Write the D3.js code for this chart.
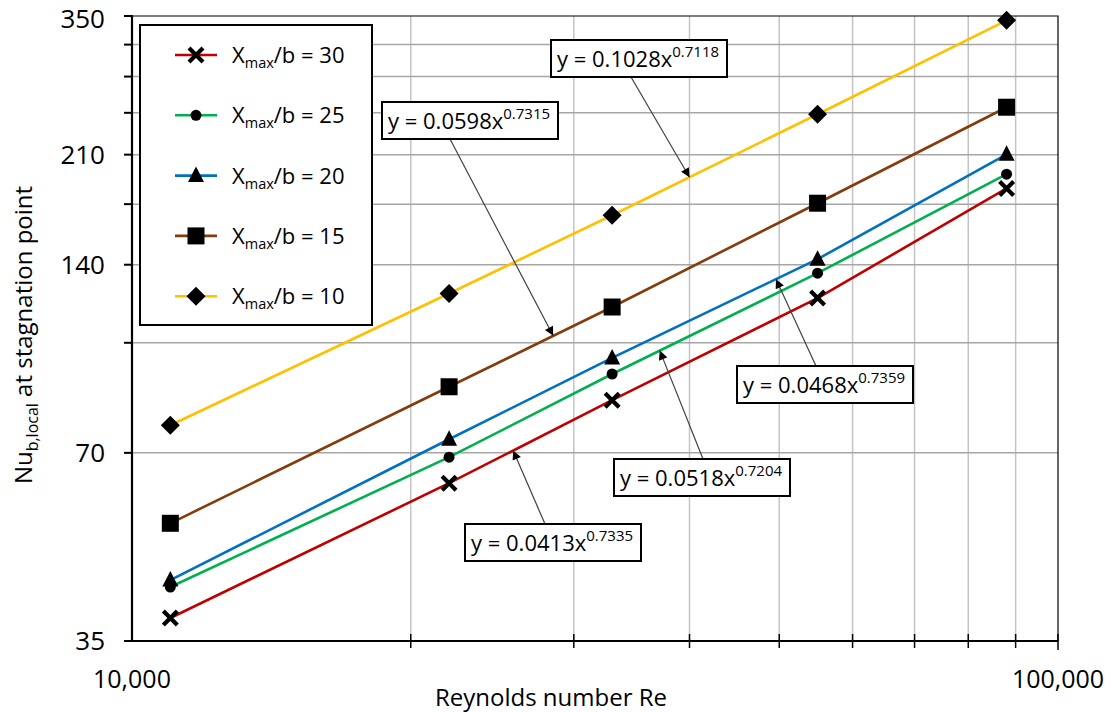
<!DOCTYPE html>
<html>
<head>
<meta charset="utf-8">
<script src="https://cdn.jsdelivr.net/npm/d3@7"></script>
<style>
  body { margin: 0; background: #fff; }
  svg { display: block; font-family: "Open Sans", sans-serif; }
</style>
</head>
<body>
<svg id="chart" width="1116" height="712"></svg>
<script>
// data (Re on x, Nu on y)
const reynolds = [11000, 22000, 33000, 55000, 88000];
const nuXb30 = [38.1, 62.6, 85.0, 123.8, 185.4];
const nuXb25 = [42.7, 68.9, 93.6, 135.7, 195.4];
const nuXb20 = [43.8, 73.6, 99.3, 142.9, 210.3];
const nuXb15 = [54.0, 89.3, 119.8, 175.6, 250.1];
const nuXb10 = [77.5, 125.9, 168.0, 243.7, 344.5];

const seriesNames = ['30', '25', '20', '15', '10'];
const seriesColors = ['#c00000', '#00b050', '#0070c0', '#843c0c', '#ffc000'];
const seriesShapes = ['cross', 'circle', 'triangle', 'square', 'diamond'];

const yTickLabels = [35, 70, 140, 210, 350];
const yGridValues = [70, 105, 140, 175, 210, 245, 280, 315, 350];
const xMinorValues = [20000, 30000, 40000, 50000, 60000, 70000, 80000, 90000];
const xTickLabels = [10000, 100000];

// trendline equations (coef, exponent) and where each arrow touches its line (Re)
const eqCoef = ['0.0413', '0.0518', '0.0468', '0.0598', '0.1028'];
const eqExp = ['0.7335', '0.7204', '0.7359', '0.7315', '0.7118'];
const eqSeries = [0, 1, 2, 3, 4];
const eqTipRe = [25800, 37150, 49600, 28500, 40000];

const allSeries = [nuXb30, nuXb25, nuXb20, nuXb15, nuXb10];

// layout
const margin = { top: 16, right: 58, bottom: 71, left: 132 };
const svg = d3.select('#chart');
const width = +svg.attr('width');
const height = +svg.attr('height');
const x0 = margin.left, x1 = width - margin.right;
const y0 = height - margin.bottom, y1 = margin.top;

const xScale = d3.scaleLog().domain([10000, 100000]).range([x0, x1]);
const yScale = d3.scaleLog().domain([35, 350]).range([y0, y1]);

// gridlines
svg.append('g').selectAll('line')
  .data(xMinorValues)
  .join('line')
  .attr('x1', d => xScale(d)).attr('x2', d => xScale(d))
  .attr('y1', y0).attr('y2', y1)
  .attr('stroke', '#c4c4c4').attr('stroke-width', 1.5);

svg.append('g').selectAll('line')
  .data(yGridValues.filter(d => d < 350))
  .join('line')
  .attr('x1', x0).attr('x2', x1)
  .attr('y1', d => yScale(d)).attr('y2', d => yScale(d))
  .attr('stroke', '#a6a6a6').attr('stroke-width', 1.5);

// plot border top/right
svg.append('path')
  .attr('d', `M${x0},${y1}H${x1}V${y0}`)
  .attr('fill', 'none').attr('stroke', '#000').attr('stroke-width', 1.2);

// series lines
const line = d3.line()
  .x((d, i) => xScale(reynolds[i]))
  .y(d => yScale(d));

svg.append('g').selectAll('path')
  .data(allSeries)
  .join('path')
  .attr('d', d => line(d))
  .attr('fill', 'none')
  .attr('stroke', (d, i) => seriesColors[i])
  .attr('stroke-width', 2.6);

// marker shapes
function drawMarker(g, shape) {
  if (shape === 'cross') {
    g.append('path').attr('d', 'M-7,-7L7,7M-7,7L7,-7')
      .attr('stroke', '#000').attr('stroke-width', 4.2).attr('fill', 'none');
  } else if (shape === 'circle') {
    g.append('circle').attr('r', 5.5).attr('fill', '#000');
  } else if (shape === 'triangle') {
    g.append('path').attr('d', 'M0,-9L8,6.5L-8,6.5Z').attr('fill', '#000');
  } else if (shape === 'square') {
    g.append('rect').attr('x', -8.5).attr('y', -8.5).attr('width', 17).attr('height', 17).attr('fill', '#000');
  } else if (shape === 'diamond') {
    g.append('path').attr('d', 'M0,-9.5L9.5,0L0,9.5L-9.5,0Z').attr('fill', '#000');
  }
}

allSeries.forEach((vals, si) => {
  svg.append('g').selectAll('g')
    .data(vals)
    .join('g')
    .attr('transform', (d, i) => `translate(${xScale(reynolds[i])},${yScale(d)})`)
    .each(function () { drawMarker(d3.select(this), seriesShapes[si]); });
});

// axes
const axisG = svg.append('g');
axisG.append('line')
  .attr('x1', x0).attr('x2', x0).attr('y1', y1).attr('y2', y0 + 1)
  .attr('stroke', '#000').attr('stroke-width', 2.2);
axisG.append('line')
  .attr('x1', x0 - 1).attr('x2', x1).attr('y1', y0).attr('y2', y0)
  .attr('stroke', '#000').attr('stroke-width', 2.2);

// y ticks (major and minor look the same)
axisG.selectAll('.ytick')
  .data([35].concat(yGridValues))
  .join('line')
  .attr('x1', x0 - 8).attr('x2', x0 + 1)
  .attr('y1', d => yScale(d)).attr('y2', d => yScale(d))
  .attr('stroke', '#000').attr('stroke-width', 2);

axisG.selectAll('.ylab')
  .data(yTickLabels)
  .join('text')
  .attr('x', x0 - 27)
  .attr('y', d => Math.max(yScale(d), 19))
  .attr('dy', '0.36em')
  .attr('text-anchor', 'end')
  .attr('font-size', 26)
  .attr('fill', '#000')
  .text(d => d);

// x ticks
axisG.selectAll('.xtick')
  .data(xMinorValues.concat([100000]))
  .join('line')
  .attr('x1', d => xScale(d)).attr('x2', d => xScale(d))
  .attr('y1', y0 - 7).attr('y2', d => d === 100000 ? y0 + 9 : y0 + 7)
  .attr('stroke', '#000').attr('stroke-width', 1.5);

axisG.selectAll('.xlab')
  .data(xTickLabels)
  .join('text')
  .attr('x', d => xScale(d))
  .attr('y', y0 + 47)
  .attr('text-anchor', 'middle')
  .attr('font-size', 25)
  .attr('fill', '#000')
  .text(d => d3.format(',')(d));

// axis titles
svg.append('text')
  .attr('x', 551).attr('y', 706)
  .attr('text-anchor', 'middle')
  .attr('font-size', 24)
  .text('Reynolds number Re');

const yTitle = svg.append('text')
  .attr('transform', 'translate(32,335) rotate(-90)')
  .attr('text-anchor', 'middle')
  .attr('font-size', 24);
yTitle.append('tspan').text('Nu');
yTitle.append('tspan').attr('font-size', 16).attr('dy', 6).text('b,local');
yTitle.append('tspan').attr('dy', -6).text(' at stagnation point');

// legend
const legend = svg.append('g');
legend.append('rect')
  .attr('x', 140).attr('y', 25).attr('width', 232).attr('height', 300)
  .attr('fill', '#fff').attr('stroke', '#000').attr('stroke-width', 2);

seriesNames.forEach((name, i) => {
  const ly = 55 + i * 60.3;
  const row = legend.append('g').attr('transform', `translate(0,${ly})`);
  row.append('line').attr('x1', 175).attr('x2', 217).attr('y1', 0).attr('y2', 0)
    .attr('stroke', seriesColors[i]).attr('stroke-width', 2.6);
  drawMarker(row.append('g').attr('transform', 'translate(196,0)'), seriesShapes[i]);
  const t = row.append('text').attr('x', 232).attr('y', 8).attr('font-size', 22);
  t.append('tspan').text('X');
  t.append('tspan').attr('font-size', 14.5).attr('dy', 5).text('max');
  t.append('tspan').attr('dy', -5).text('/b = ' + name);
});

// callouts with arrows
svg.append('defs').append('marker')
  .attr('id', 'arrowhead')
  .attr('viewBox', '0 0 10 10')
  .attr('refX', 10).attr('refY', 5)
  .attr('markerWidth', 11).attr('markerHeight', 9)
  .attr('markerUnits', 'userSpaceOnUse')
  .attr('orient', 'auto')
  .append('path').attr('d', 'M0,0L10,5L0,10Z').attr('fill', '#000');

// box top-left corners and arrow start offsets (pixels)
const boxPos = [[465, 524, 80, 0], [614, 459, 89, 0], [737, 366, 79, 0], [382, 102, 68, 37], [551, 40, 80, 37]];

function nuAt(vals, re) {
  const lx = reynolds.map(Math.log);
  const ly = vals.map(Math.log);
  const f = d3.scaleLinear().domain(lx).range(ly);
  return Math.exp(f(Math.log(re)));
}

eqCoef.forEach((c, i) => {
  const [bx, by, ax, ay] = boxPos[i];
  const vals = allSeries[eqSeries[i]];
  const tx = xScale(eqTipRe[i]);
  const ty = yScale(nuAt(vals, eqTipRe[i]));
  svg.append('line')
    .attr('x1', bx + ax).attr('y1', by + ay)
    .attr('x2', tx).attr('y2', ty)
    .attr('stroke', '#404040').attr('stroke-width', 1.2)
    .attr('marker-end', 'url(#arrowhead)');
  const g = svg.append('g').attr('transform', `translate(${bx},${by})`);
  g.append('rect').attr('width', 176).attr('height', 37)
    .attr('fill', '#fff').attr('stroke', '#000').attr('stroke-width', 2);
  const t = g.append('text').attr('x', 6).attr('y', 27).attr('font-size', 22);
  t.append('tspan').text('y = ' + c + 'x');
  t.append('tspan').attr('font-size', 15).attr('dy', -10).text(eqExp[i]);
});
</script>
</body>
</html>
